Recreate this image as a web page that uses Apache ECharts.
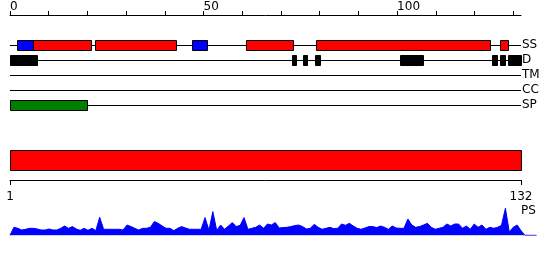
<!DOCTYPE html>
<html>
<head>
<meta charset="utf-8">
<script src="https://cdn.jsdelivr.net/npm/echarts@6/dist/echarts.min.js"></script>
<style>html,body{margin:0;padding:0;background:#fff;}#c{width:550px;height:260px;}</style>
</head>
<body>
<div id="c"></div>
<script>
// ---- data ----
const seqLength = 132;
const trackNames = ['SS', 'D', 'TM', 'CC', 'SP'];
const topTickLabels = [0, 50, 100];
const bottomTickLabels = [1, 132];
const ssHelix = [[6, 21], [22, 43], [61, 73], [79, 124], [126.7, 128.6]];
const ssStrand = [[1.8, 6], [47, 51]];
const disorder = [[0, 7], [72.8, 73.8], [75.6, 76.7], [78.7, 80], [100.7, 106.8], [124.6, 125.8], [126.7, 127.8], [128.7, 132]];
const transmembrane = [];
const coiledCoil = [];
const signalPeptide = [[0, 20]];
const domainBar = [[1, 132]];
const psResidues = [];
const psValues = [
  0, 8, 7, 5.3, 6, 7, 7, 6.3, 5.3, 5.3,
  6.3, 5.3, 5.3, 7, 9.3, 7, 8.7, 6.3, 5, 7,
  5, 7, 4.7, 18, 6, 6, 6, 6, 6, 5.3,
  10.3, 8.7, 7, 5.3, 7, 7, 8, 13.7, 12, 9.3,
  7, 7, 4.7, 7, 8.7, 7.3, 6, 6, 6, 6,
  17.7, 5, 23.7, 4.7, 10.3, 6, 9.3, 12.7, 8.7, 10,
  17.7, 6, 7, 8, 10.3, 7, 11.3, 10.3, 12.7, 7.3,
  7.7, 8, 8.7, 9.7, 10.3, 8.7, 6.3, 7, 11, 8,
  6, 7, 8, 6.7, 7, 11.3, 10, 12, 9.3, 7,
  6, 7.3, 8.7, 8.7, 7.7, 9.3, 8, 6, 9.3, 7.3,
  7, 7, 16.3, 10.3, 8, 8.7, 10.3, 12, 8, 6,
  7, 8, 11.3, 9.3, 11.3, 11.3, 7, 9.3, 6, 11.3,
  8, 10.3, 6, 8, 7, 8, 10, 27, 3.3, 8,
  10.3, 4.7, 0, 0, 0, 0
];
for (let i = 0; i < psValues.length; i++) psResidues.push(i + 1);

// ---- build ----
const FONT = 'DejaVu Sans';
const trackY = i => i + 2;
function withTrack(list, t) { return list.map(d => [d[0], d[1], trackY(t)]); }

function rectRenderer(fill, h) {
  return function (params, api) {
    const s = api.coord([api.value(0), api.value(2)]);
    const e = api.coord([api.value(1), api.value(2)]);
    const x = Math.round(s[0]) + 0.5;
    const w = Math.round(e[0]) - Math.round(s[0]);
    return {
      type: 'rect',
      shape: { x: x, y: Math.round(s[1] - h / 2) + 0.5, width: w, height: h },
      style: { fill: fill, stroke: '#000', lineWidth: 1 }
    };
  };
}
function lineRenderer(params, api) {
  const s = api.coord([api.value(0), api.value(2)]);
  const e = api.coord([api.value(1), api.value(2)]);
  const y = Math.round(s[1]) + 0.5;
  return { type: 'line', shape: { x1: s[0], y1: y, x2: e[0], y2: y }, style: { stroke: '#000', lineWidth: 1 } };
}
function barRenderer(params, api) {
  const s = api.coord([api.value(0), 3]);
  const e = api.coord([api.value(1), 1]);
  return {
    type: 'rect',
    shape: { x: Math.round(s[0]) + 0.5, y: Math.round(s[1]) + 0.5, width: Math.round(e[0]) - Math.round(s[0]), height: Math.round(e[1]) - Math.round(s[1]) },
    style: { fill: '#ff0000', stroke: '#000', lineWidth: 1 }
  };
}

const trackLines = trackNames.map((n, i) => [0, seqLength, trackY(i)]);
const psData = psResidues.map((r, i) => [r, psValues[i]]);

const option = {
  animation: false,
  textStyle: { fontFamily: FONT },
  title: {
    text: 'PS', left: 521, top: 205, padding: 0,
    textStyle: { fontFamily: FONT, fontSize: 12, fontWeight: 'normal', color: '#000' }
  },
  grid: [
    { left: 10, right: 29, top: 15, height: 105 },
    { left: 10, right: 29, top: 150, height: 30 },
    { left: 10, width: 135 * 511 / 131, top: 205.3, height: 30 }
  ],
  xAxis: [
    {
      gridIndex: 0, type: 'value', position: 'top', min: 0, max: seqLength, interval: 10,
      axisLine: { lineStyle: { color: '#000', width: 1 } },
      axisTick: { show: true, length: 4, lineStyle: { color: '#000' } },
      splitLine: { show: false },
      axisLabel: {
        interval: 0, showMaxLabel: false, align: 'left', margin: 2, color: '#000', fontSize: 12, fontFamily: FONT,
        formatter: v => (topTickLabels.indexOf(v) >= 0 ? String(v) : '')
      }
    },
    {
      gridIndex: 1, type: 'value', position: 'bottom', min: 1, max: seqLength,
      axisLine: { lineStyle: { color: '#000', width: 1 } },
      axisTick: { show: true, length: 5, customValues: bottomTickLabels, lineStyle: { color: '#000' } },
      splitLine: { show: false },
      axisLabel: { customValues: bottomTickLabels, margin: 11, color: '#000', fontSize: 12, fontFamily: FONT }
    },
    { gridIndex: 2, type: 'value', min: 1, max: 136, show: false }
  ],
  yAxis: [
    {
      gridIndex: 0, type: 'value', inverse: true, min: 0, max: 7, interval: 1, position: 'right',
      axisLine: { show: false }, axisTick: { show: false }, splitLine: { show: false },
      axisLabel: {
        margin: 1, color: '#000', fontSize: 12, fontFamily: FONT,
        formatter: v => (trackNames[v - 2] !== undefined ? trackNames[v - 2] : '')
      }
    },
    { gridIndex: 1, type: 'value', min: 0, max: 3, show: false },
    { gridIndex: 2, type: 'value', min: 0, max: 30, show: false }
  ],
  series: [
    { type: 'custom', xAxisIndex: 0, yAxisIndex: 0, renderItem: lineRenderer, data: trackLines, silent: true },
    { type: 'custom', xAxisIndex: 0, yAxisIndex: 0, renderItem: rectRenderer('#ff0000', 10), data: withTrack(ssHelix, 0) },
    { type: 'custom', xAxisIndex: 0, yAxisIndex: 0, renderItem: rectRenderer('#0000ff', 10), data: withTrack(ssStrand, 0) },
    { type: 'custom', xAxisIndex: 0, yAxisIndex: 0, renderItem: rectRenderer('#000000', 10), data: withTrack(disorder, 1) },
    { type: 'custom', xAxisIndex: 0, yAxisIndex: 0, renderItem: rectRenderer('#ffff00', 10), data: withTrack(transmembrane, 2) },
    { type: 'custom', xAxisIndex: 0, yAxisIndex: 0, renderItem: rectRenderer('#00ffff', 10), data: withTrack(coiledCoil, 3) },
    { type: 'custom', xAxisIndex: 0, yAxisIndex: 0, renderItem: rectRenderer('#008000', 10), data: withTrack(signalPeptide, 4) },
    { type: 'custom', xAxisIndex: 1, yAxisIndex: 1, renderItem: barRenderer, data: domainBar },
    {
      type: 'line', xAxisIndex: 2, yAxisIndex: 2, data: psData, symbol: 'none', smooth: false,
      lineStyle: { color: '#0000ff', width: 1 }, itemStyle: { color: '#0000ff' },
      areaStyle: { color: '#0000ff', opacity: 1 }
    }
  ]
};
const chart = echarts.init(document.getElementById('c'), null, { renderer: 'canvas' });
chart.setOption(option);
</script>
</body>
</html>
